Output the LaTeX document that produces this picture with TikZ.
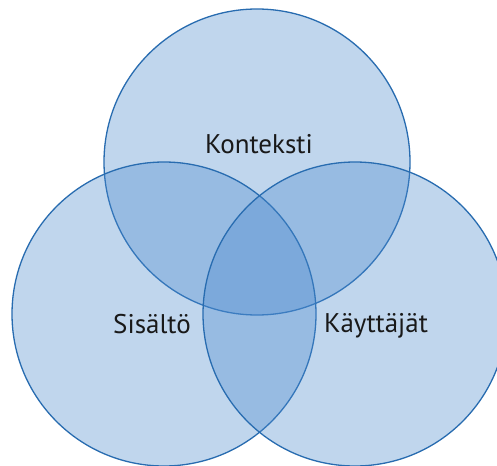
\documentclass[tikz,border=0pt]{standalone}
\usepackage{fontspec}
\setmainfont{PT Sans}
\definecolor{vennfill}{RGB}{75,138,206}
\definecolor{vennline}{RGB}{40,108,176}
\tikzset{
	venn/.style={fill=vennfill,fill opacity=0.35,draw=vennline,draw opacity=1,line width=1.3pt},
	label/.style={font=\fontsize{27}{32}\selectfont,text=black!90}
}

\begin{document}
\begin{tikzpicture}[x=1pt,y=-1pt]
	\useasboundingbox (0,0) rectangle (497,465);
	\fill[white] (0,0) rectangle (497,465);
	\draw[venn] (257,162) circle (153pt);
	\draw[venn] (164,314) circle (152pt);
	\draw[venn] (355,314) circle (152pt);
	\node[label] (kont) at (259,144) {Konteksti};
	\node[label] (sis) at (152,324) {Sisältö};
	\node[label] (kay) at (376,326) {Käyttäjät};
\end{tikzpicture}
\end{document}
